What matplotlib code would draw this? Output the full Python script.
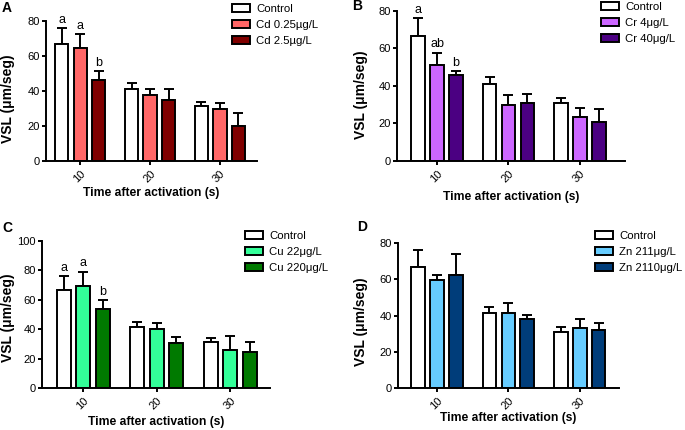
import numpy as np
import matplotlib.pyplot as plt
from matplotlib.patches import Patch

plt.rcParams['font.family'] = ['Liberation Sans', 'DejaVu Sans']

times = ["10", "20", "30"]

control = [66.5, 41.2, 31.0]
control_err = [9.5, 3.4, 2.7]

cd_labels = ["Control", "Cd 0.25µg/L", "Cd 2.5µg/L"]
cd_low = [64.2, 37.7, 29.8]
cd_low_err = [8.0, 3.1, 3.2]
cd_high = [46.1, 34.8, 19.7]
cd_high_err = [5.1, 6.2, 7.4]
cd_letters = ["a", "a", "b"]

cr_labels = ["Control", "Cr 4μg/L", "Cr 40μg/L"]
cr_low = [51.0, 29.9, 23.2]
cr_low_err = [6.8, 5.3, 4.8]
cr_high = [45.9, 30.9, 20.8]
cr_high_err = [2.2, 4.9, 7.0]
cr_letters = ["a", "ab", "b"]

cu_labels = ["Control", "Cu 22μg/L", "Cu 220μg/L"]
cu_low = [69.4, 40.0, 25.9]
cu_low_err = [9.8, 4.5, 9.5]
cu_high = [53.6, 30.8, 24.6]
cu_high_err = [6.1, 4.1, 6.4]
cu_letters = ["a", "a", "b"]

zn_labels = ["Control", "Zn 211μg/L", "Zn 2110μg/L"]
zn_low = [59.5, 41.3, 33.0]
zn_low_err = [2.8, 5.4, 4.9]
zn_high = [62.3, 38.2, 32.0]
zn_high_err = [11.5, 2.2, 3.7]

W, H = 685, 430
fig = plt.figure(figsize=(W / 100, H / 100), dpi=100)

# pixel layout: (left, right, top, bottom) of axes, legend (x, top), tag (x, y), ylabel, xlabel y
panels = [
    dict(tag="A", box=(46, 257, 20.7, 160.7), ymax=80, labels=cd_labels,
         low=cd_low, low_err=cd_low_err, high=cd_high, high_err=cd_high_err,
         cols=["#ff6666", "#800000"], letters=cd_letters, xl=(-0.49, 2.53),
         leg=(232, 4), tagpos=(2, 8), ylab=(8, 99), xlab=193),
    dict(tag="B", box=(397, 625, 11, 160.7), ymax=80, labels=cr_labels,
         low=cr_low, low_err=cr_low_err, high=cr_high, high_err=cr_high_err,
         cols=["#cc66ff", "#4b0082"], letters=cr_letters, xl=(-0.56, 2.63),
         leg=(601, 2), tagpos=(352, 6), ylab=(361, 95), xlab=197),
    dict(tag="C", box=(42, 270, 241, 388), ymax=100, labels=cu_labels,
         low=cu_low, low_err=cu_low_err, high=cu_high, high_err=cu_high_err,
         cols=["#33ff99", "#007a00"], letters=cu_letters, xl=(-0.56, 2.54),
         leg=(245, 231), tagpos=(2, 228), ylab=(8, 318), xlab=422),
    dict(tag="D", box=(398, 619, 243, 388), ymax=80, labels=zn_labels,
         low=zn_low, low_err=zn_low_err, high=zn_high, high_err=zn_high_err,
         cols=["#66ccff", "#003d7a"], letters=None, xl=(-0.545, 2.55),
         leg=(595, 231), tagpos=(357, 227), ylab=(361, 322), xlab=418),
]

x = np.arange(len(times))
w = 0.19
off = 0.265
lw = 1.4

for p in panels:
    l, r, t, b = p["box"]
    ax = fig.add_axes([l / W, 1 - b / H, (r - l) / W, (b - t) / H])
    series = [(control, control_err, "white"),
              (p["low"], p["low_err"], p["cols"][0]),
              (p["high"], p["high_err"], p["cols"][1])]
    handles = []
    for i, (vals, errs, c) in enumerate(series):
        pos = x + (i - 1) * off
        ax.bar(pos, vals, width=w, color=c, edgecolor="black", linewidth=lw, zorder=2)
        ax.errorbar(pos, vals, yerr=[np.zeros(len(errs)), errs], fmt="none",
                    ecolor="black", elinewidth=lw, capsize=3.5, capthick=lw, zorder=1)
        handles.append(Patch(facecolor=c, edgecolor="black", linewidth=lw, label=p["labels"][i]))
        if p["letters"]:
            ax.annotate(p["letters"][i], (pos[0], vals[0] + errs[0]), xytext=(0, 1.5),
                        textcoords="offset points", ha="center", va="bottom", fontsize=9)
    ax.set_xlim(*p["xl"])
    ax.set_ylim(0, p["ymax"])
    ax.set_yticks(np.arange(0, p["ymax"] + 1, 20))
    ax.set_xticks(x)
    ax.set_xticklabels(times, rotation=45, ha="right", va="top", rotation_mode="anchor")
    for s in ["top", "right"]:
        ax.spines[s].set_visible(False)
    for s in ["left", "bottom"]:
        ax.spines[s].set_linewidth(lw)
    ax.tick_params(width=lw, length=3, labelsize=8, colors="black", pad=1.5)
    ax.tick_params(axis="x", pad=2.5)
    ax.set_ylabel("VSL (μm/seg)", fontsize=10, fontweight="bold")
    ax.set_xlabel("Time after activation (s)", fontsize=8.7, fontweight="bold")
    ax.yaxis.set_label_coords(p["ylab"][0] / W, 1 - p["ylab"][1] / H, transform=fig.transFigure)
    ax.xaxis.set_label_coords((l + r) / 2 / W, 1 - p["xlab"] / H, transform=fig.transFigure)
    ax.yaxis.label.set_verticalalignment("center")
    ax.xaxis.label.set_verticalalignment("center")
    fig.legend(handles=handles, loc="upper left",
               bbox_to_anchor=(p["leg"][0] / W, 1 - p["leg"][1] / H), frameon=False,
               fontsize=8.2, handlelength=1.6, handleheight=0.75, labelspacing=0.5,
               handletextpad=0.55, borderaxespad=0, borderpad=0)
    fig.text(p["tagpos"][0] / W, 1 - p["tagpos"][1] / H, p["tag"], fontsize=10,
             fontweight="bold", ha="left", va="center")

fig.savefig("out.png", dpi=100)
